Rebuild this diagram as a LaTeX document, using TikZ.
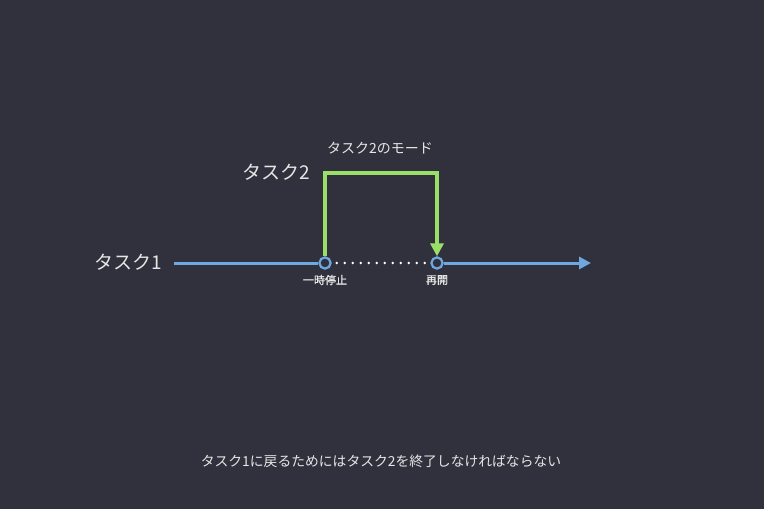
\documentclass[tikz,border=0pt]{standalone}
\usepackage{fontspec}
\newfontfamily\jpfont{Noto Sans CJK JP}
\newfontfamily\jpbold[FakeBold=1.2]{Noto Sans CJK JP}
\usepackage{xcolor}
\usetikzlibrary{arrows.meta,positioning}
\definecolor{bgcol}{HTML}{30313C}
\definecolor{taskblue}{HTML}{6FA8DE}
\definecolor{taskgreen}{HTML}{9ADF68}
\definecolor{labelgray}{HTML}{E6E6E6}

\begin{document}
\begin{tikzpicture}[x=0.5pt, y=-0.5pt,
    label/.style={text=labelgray, font=\jpfont\fontsize{#1}{#1}\selectfont, inner sep=0pt},
    ticklabel/.style={text=labelgray, font=\jpbold\fontsize{5.5}{5.5}\selectfont, inner sep=0pt},
    point/.style={circle, draw=taskblue, fill=bgcol, line width=1.1pt, minimum size=5.6pt, inner sep=0pt},
    bluearrow/.style={draw=taskblue, line width=1.5pt, -{Triangle[width=6pt,length=6pt]}},
    greenarrow/.style={draw=taskgreen, line width=1.7pt, -{Triangle[width=6.5pt,length=6.5pt]}},
    dots/.style={draw=white, line width=1.4pt, line cap=round, dash pattern=on 0pt off 4pt}
]

% Background
\fill[bgcol] (0,0) rectangle (764,509);
\useasboundingbox (0,0) rectangle (764,509);

% Task 1 timeline
\node[label=9.5, anchor=east] (task1) at (162,262) {タスク1};
\coordinate (t1start) at (174,263);
\coordinate (t1end) at (591,263);
\node[point] (pause) at (325,263) {};
\node[point] (resume) at (437,263) {};
\draw[taskblue, line width=1.5pt] (t1start) -- (pause.west);
\draw[bluearrow] (resume.east) -- (t1end);
\draw[dots] ([xshift=2.5pt]pause.east) -- ([xshift=-1.5pt]resume.west);
\node[ticklabel] (pauselbl) at (325,280) {一時停止};
\node[ticklabel] (resumelbl) at (437,280) {再開};

% Task 2 mode
\node[label=9.5, anchor=east] (task2) at (310,172) {タスク2};
\coordinate (t2left) at (325,173);
\coordinate (t2right) at (437,173);
\node[label=7] (modelbl) at (380,148) {タスク2のモード};
\draw[greenarrow] (pause.north) -- (t2left) -- (t2right) -- (resume.north);

% Note
\node[label=6.9] (note) at (381,461) {タスク1に戻るためにはタスク2を終了しなければならない};

\end{tikzpicture}
\end{document}
